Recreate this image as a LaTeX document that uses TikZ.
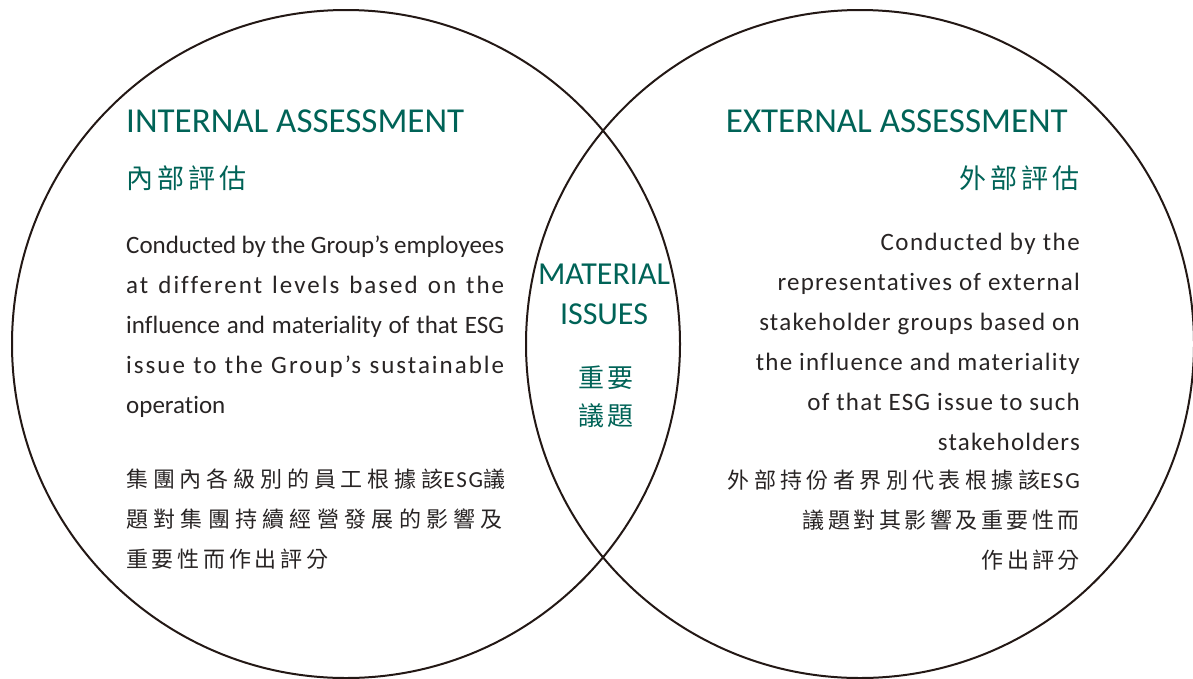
\documentclass[tikz,border=0pt]{standalone}
\usepackage{fontspec}
\setmainfont{Carlito}[Ligatures={NoCommon}]
\newfontfamily\cjk[LetterSpace=15]{Noto Sans CJK TC}
\definecolor{esggreen}{RGB}{0,99,87}
\definecolor{esgtext}{RGB}{40,36,36}
\definecolor{esgline}{RGB}{35,24,21}
\newcommand{\spreadline}[1]{\makebox[378pt][s]{#1}}
\newcommand{\esg}{{\rmfamily\fontsize{23}{23}\selectfont\addfontfeature{LetterSpace=8}ESG}}

\begin{document}
\begin{tikzpicture}[x=1pt,y=-1pt,
    ring/.style={draw=esgline,line width=2pt,circle,minimum size=668pt,inner sep=0pt},
    heading/.style={text=esggreen,inner sep=0pt,font=\fontsize{35}{35}\selectfont},
    headzh/.style={text=esggreen,inner sep=0pt,font=\cjk\fontsize{27}{27}\selectfont},
    body/.style={text=esgtext,inner sep=0pt,font=\fontsize{25}{25}\selectfont},
    bodyzh/.style={text=esgtext,inner sep=0pt,font=\cjk\fontsize{22}{22}\selectfont}]
      \useasboundingbox (0,0) rectangle (1193,678);
      \node[ring] (internal) at (346,344) {};
      \node[ring] (external) at (860,344) {};
      % headings
      \draw
        (126,132) node[heading,anchor=base west] (inten){INTERNAL ASSESSMENT}
        (126,188) node[headzh,anchor=base west] (intzh){內部評估}
        (1068,132) node[heading,anchor=base east] (exten){EXTERNAL ASSESSMENT}
        (1080,188) node[headzh,anchor=base east] (extzh){外部評估};
      % middle
      \draw
        (604,284) node[heading,anchor=base,font=\fontsize{32}{32}\selectfont] (mat1){MATERIAL}
        (604,324) node[heading,anchor=base,font=\fontsize{32}{32}\selectfont] (mat2){ISSUES}
        (606,387) node[headzh,anchor=base,font=\cjk\fontsize{26}{26}\selectfont] (mat3){重要}
        (606,425) node[headzh,anchor=base,font=\cjk\fontsize{26}{26}\selectfont] (mat4){議題};
      \begin{scope}[every node/.style={body,anchor=base west}]
        \draw
          (126,253) node (l1){\spreadline{Conducted by the Group’s employees}}
          (126,293) node (l2){\addfontfeature{LetterSpace=8}\spreadline{at different levels based on the}}
          (126,333) node (l3){\spreadline{influence and materiality of that ESG}}
          (126,373) node (l4){\addfontfeature{LetterSpace=8}\spreadline{issue to the Group’s sustainable}}
          (126,413) node (l5){operation};
      \end{scope}
      \begin{scope}[every node/.style={bodyzh,anchor=base west}]
        \draw
          (126,487) node (lz1){\addfontfeature{LetterSpace=22}集團內各級別的員工根據該\esg 議}
          (126,527) node (lz2){\addfontfeature{LetterSpace=24}題對集團持續經營發展的影響及}
          (126,567) node (lz3){\addfontfeature{LetterSpace=17}重要性而作出評分};
      \end{scope}
      \begin{scope}[every node/.style={body,anchor=base east,font=\fontsize{25}{25}\selectfont\addfontfeature{LetterSpace=5}}]
        \draw
          (1080,250) node (r1){\addfontfeature{LetterSpace=6}Conducted by the}
          (1080,290) node (r2){representatives of external}
          (1080,330) node (r3){stakeholder groups based on}
          (1080,370) node (r4){the influence and materiality}
          (1080,410) node (r5){of that ESG issue to such}
          (1080,450) node (r6){stakeholders};
      \end{scope}
      \begin{scope}[every node/.style={bodyzh,anchor=base east}]
        \draw
          (1080,488) node (rz1){\addfontfeature{LetterSpace=20}外部持份者界別代表根據該\esg}
          (1080,528) node (rz2){\addfontfeature{LetterSpace=16}議題對其影響及重要性而}
          (1080,568) node (rz3){作出評分};
      \end{scope}
    \end{tikzpicture}
\end{document}
